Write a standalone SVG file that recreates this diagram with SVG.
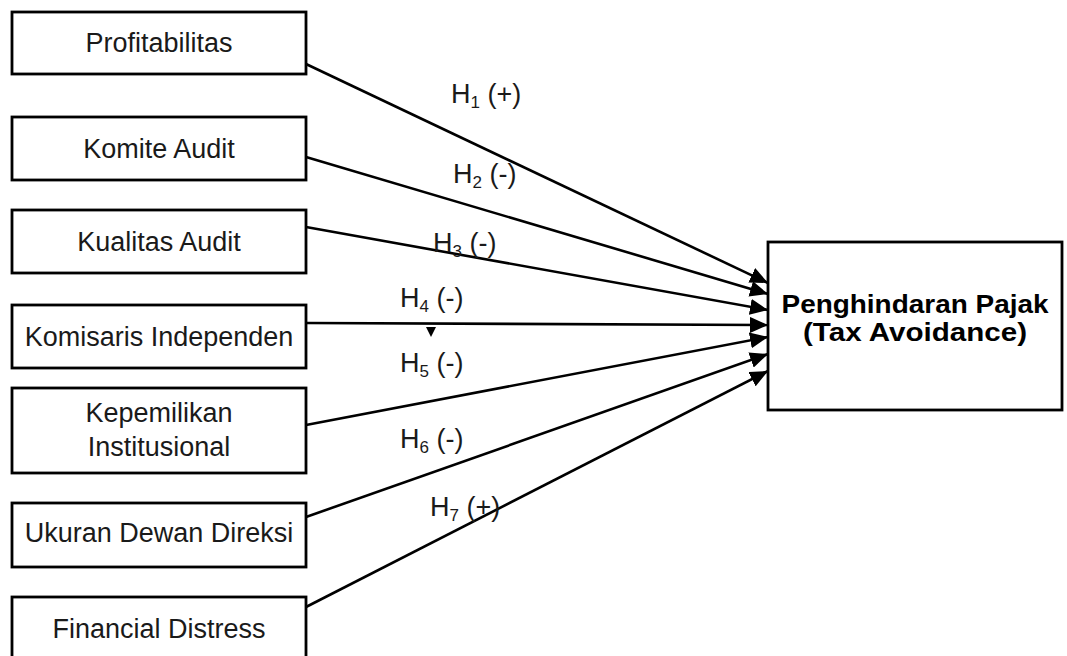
<svg xmlns="http://www.w3.org/2000/svg" width="1067" height="656" viewBox="0 0 1067 656">
<defs>
<style>
.box{fill:#fff;stroke:#000;stroke-width:2.8}
.lbl{font-family:"Liberation Sans",Arial,sans-serif;font-size:27px;fill:#1a1a1a;text-anchor:middle}
.bold{font-family:"Liberation Sans",Arial,sans-serif;font-size:25px;font-weight:bold;fill:#000;text-anchor:middle}
.h{font-family:"Liberation Sans",Arial,sans-serif;font-size:27px;fill:#1a1a1a}
.sub{font-size:17px}
.conn{stroke:#000;stroke-width:2.6;fill:none;marker-end:url(#arr)}
</style>
<marker id="arr" markerUnits="userSpaceOnUse" markerWidth="18" markerHeight="16" viewBox="0 0 18 16" refX="18" refY="8" orient="auto">
<path d="M0,0 L18,8 L0,16 Z" fill="#000"/>
</marker>
</defs>
<rect width="1067" height="656" fill="#fff"/>
<g id="connectors">
<line class="conn" x1="306" y1="64" x2="768" y2="283"/>
<line class="conn" x1="306" y1="157" x2="768" y2="294"/>
<line class="conn" x1="306" y1="227" x2="768" y2="310"/>
<line class="conn" x1="306" y1="323" x2="768" y2="325"/>
<line class="conn" x1="306" y1="425" x2="768" y2="337"/>
<line class="conn" x1="306" y1="517" x2="768" y2="354"/>
<line class="conn" x1="306" y1="607" x2="768" y2="371"/>
<polygon points="426,327 436,327 431,337" fill="#000"/>
</g>
<g id="labels">
<text class="h" x="451" y="103">H<tspan class="sub" dy="5">1</tspan><tspan dy="-5"> (+)</tspan></text>
<text class="h" x="453" y="183">H<tspan class="sub" dy="5">2</tspan><tspan dy="-5"> (-)</tspan></text>
<text class="h" x="433" y="252">H<tspan class="sub" dy="5">3</tspan><tspan dy="-5"> (-)</tspan></text>
<text class="h" x="400" y="307">H<tspan class="sub" dy="5">4</tspan><tspan dy="-5"> (-)</tspan></text>
<text class="h" x="400" y="372">H<tspan class="sub" dy="5">5</tspan><tspan dy="-5"> (-)</tspan></text>
<text class="h" x="400" y="448">H<tspan class="sub" dy="5">6</tspan><tspan dy="-5"> (-)</tspan></text>
<text class="h" x="430" y="516">H<tspan class="sub" dy="5">7</tspan><tspan dy="-5"> (+)</tspan></text>
</g>
<g id="n1"><rect class="box" x="12" y="12" width="294" height="62"/><text class="lbl" x="159" y="52">Profitabilitas</text></g>
<g id="n2"><rect class="box" x="12" y="117" width="294" height="63"/><text class="lbl" x="159" y="158">Komite Audit</text></g>
<g id="n3"><rect class="box" x="12" y="210" width="294" height="63"/><text class="lbl" x="159" y="251">Kualitas Audit</text></g>
<g id="n4"><rect class="box" x="12" y="305" width="294" height="63"/><text class="lbl" x="159" y="346">Komisaris Independen</text></g>
<g id="n5"><rect class="box" x="12" y="388" width="294" height="85"/><text class="lbl" x="159" y="422">Kepemilikan</text><text class="lbl" x="159" y="456">Institusional</text></g>
<g id="n6"><rect class="box" x="12" y="503" width="294" height="64"/><text class="lbl" x="159" y="542">Ukuran Dewan Direksi</text></g>
<g id="n7"><rect class="box" x="12" y="597" width="294" height="64"/><text class="lbl" x="159" y="638">Financial Distress</text></g>
<g id="target"><rect class="box" x="768" y="242" width="294" height="168"/>
<text class="bold" x="915" y="313" textLength="267" lengthAdjust="spacingAndGlyphs">Penghindaran Pajak</text>
<text class="bold" x="915" y="341" textLength="224" lengthAdjust="spacingAndGlyphs">(Tax Avoidance)</text></g>
</svg>
